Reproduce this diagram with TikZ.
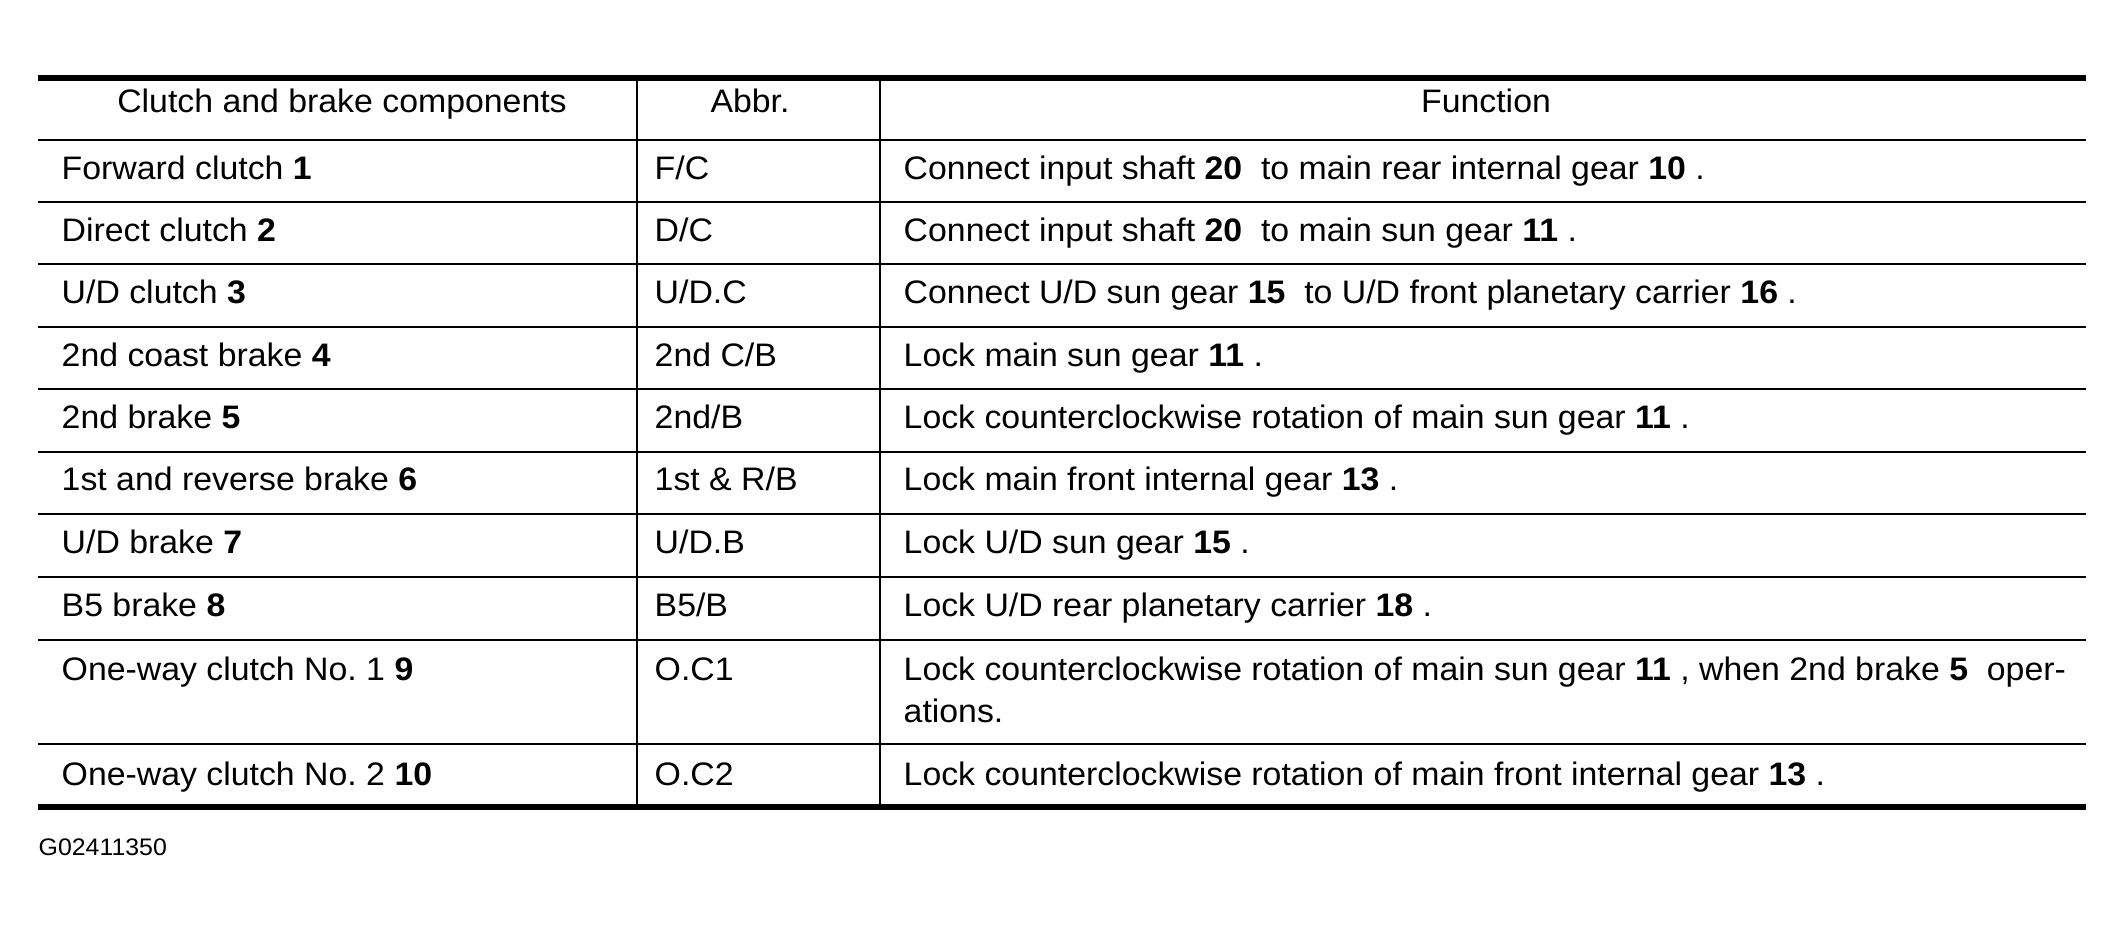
\documentclass[tikz,border=0pt]{standalone}
\usepackage{fontspec}
\setmainfont{Liberation Sans}[FakeStretch=1.04]
\usetikzlibrary{positioning}
\frenchspacing
\tikzset{
    cell/.style={
        anchor=base west,
        inner sep=0pt,
        text=black,
        font=\fontsize{9.25pt}{11pt}\selectfont
    },
    head/.style={
        cell,
        anchor=base
    },
    figId/.style={
        cell,
        font=\fontsize{6.8pt}{8pt}\selectfont
    },
    rowRule/.style={
        draw=black,
        line width=0.71pt
    },
    colRule/.style={
        draw=black,
        line width=0.6pt
    },
    boldRule/.style={
        draw=black,
        line width=1.85pt
    }
}

\begin{document}
\begin{tikzpicture}[x=0.01cm, y=-0.01cm]
    \useasboundingbox (0,0) rectangle (2124,930);
    \fill[white] (0,0) rectangle (2124,930);

    % Rules
    \foreach \y in {140,202,264,327,389,452,514,577,640,744}
        \draw[rowRule] (38,\y) -- (2086,\y);
    \foreach \x in {637,880}
        \draw[colRule] (\x,78) -- (\x,808);
    \draw[boldRule] (38,78) -- (2086,78);
    \draw[boldRule] (38,807) -- (2086,807);

    % Header
    \node[head] (headComp) at (342,112) {Clutch and brake components};
    \node[head] (headAbbr) at (750,112) {Abbr.};
    \node[head] (headFunc) at (1486,112) {Function};

    % Components
    \node[cell] (comp1) at (61,179) {Forward clutch \textbf{1}};
    \node[cell] (comp2) at (61,241) {Direct clutch \textbf{2}};
    \node[cell] (comp3) at (61,303) {U/D clutch \textbf{3}};
    \node[cell] (comp4) at (61,366) {2nd coast brake \textbf{4}};
    \node[cell] (comp5) at (61,428) {2nd brake \textbf{5}};
    \node[cell] (comp6) at (61,490) {1st and reverse brake \textbf{6}};
    \node[cell] (comp7) at (61,553) {U/D brake \textbf{7}};
    \node[cell] (comp8) at (61,616) {B5 brake \textbf{8}};
    \node[cell] (comp9) at (61,680) {One-way clutch No. 1 \textbf{9}};
    \node[cell] (comp10) at (61,785) {One-way clutch No. 2 \textbf{10}};

    % Abbreviations
    \node[cell] (abbr1) at (654,179) {F/C};
    \node[cell] (abbr2) at (654,241) {D/C};
    \node[cell] (abbr3) at (654,303) {U/D.C};
    \node[cell] (abbr4) at (654,366) {2nd C/B};
    \node[cell] (abbr5) at (654,428) {2nd/B};
    \node[cell] (abbr6) at (654,490) {1st \& R/B};
    \node[cell] (abbr7) at (654,553) {U/D.B};
    \node[cell] (abbr8) at (654,616) {B5/B};
    \node[cell] (abbr9) at (654,680) {O.C1};
    \node[cell] (abbr10) at (654,785) {O.C2};

    % Functions
    \node[cell] (func1) at (903,179) {Connect input shaft \textbf{20}\ \ to main rear internal gear \textbf{10} .};
    \node[cell] (func2) at (903,241) {Connect input shaft \textbf{20}\ \ to main sun gear \textbf{11} .};
    \node[cell] (func3) at (903,303) {Connect U/D sun gear \textbf{15}\ \ to U/D front planetary carrier \textbf{16} .};
    \node[cell] (func4) at (903,366) {Lock main sun gear \textbf{11} .};
    \node[cell] (func5) at (903,428) {Lock counterclockwise rotation of main sun gear \textbf{11} .};
    \node[cell] (func6) at (903,490) {Lock main front internal gear \textbf{13} .};
    \node[cell] (func7) at (903,553) {Lock U/D sun gear \textbf{15} .};
    \node[cell] (func8) at (903,616) {Lock U/D rear planetary carrier \textbf{18} .};
    \node[cell] (func9) at (903,680) {Lock counterclockwise rotation of main sun gear \textbf{11} , when 2nd brake \textbf{5}\ \ oper-};
    \node[cell] (func9b) at (903,722) {ations.};
    \node[cell] (func10) at (903,785) {Lock counterclockwise rotation of main front internal gear \textbf{13} .};

    \node[figId] (figNo) at (38,855) {G02411350};
\end{tikzpicture}
\end{document}
